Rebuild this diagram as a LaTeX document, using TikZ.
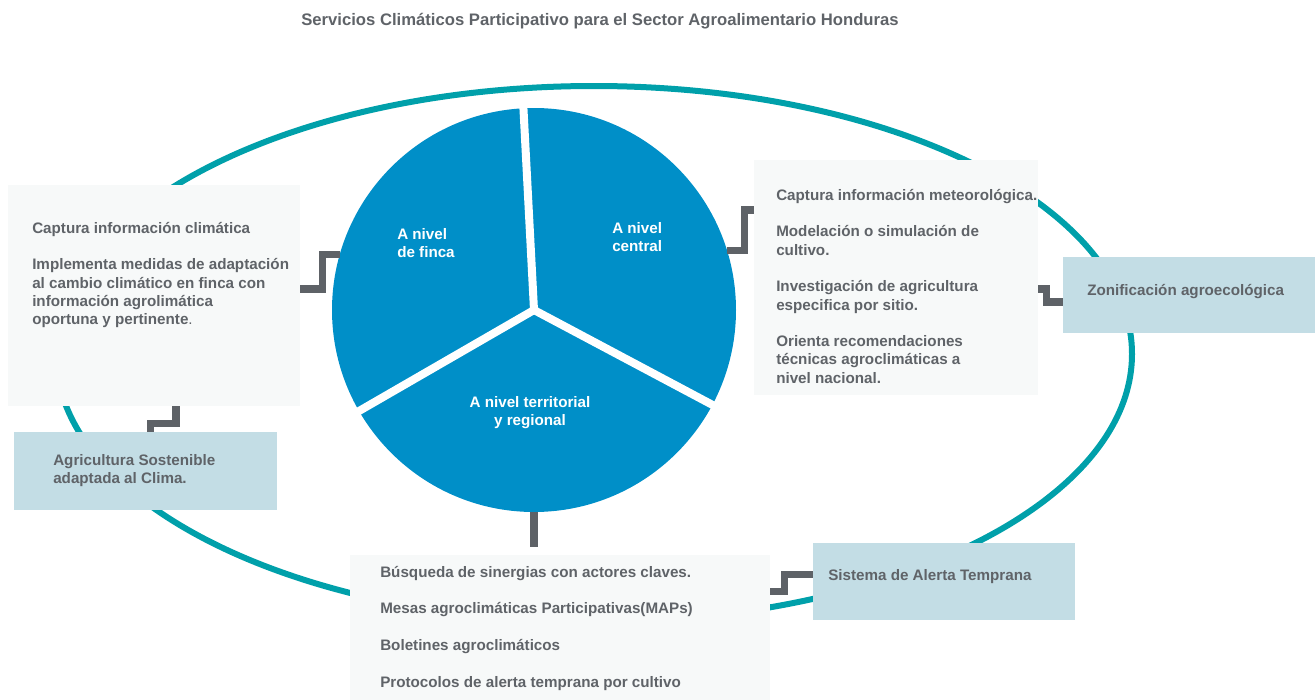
\documentclass[tikz,border=0pt]{standalone}
\usepackage{fontspec}
\setmainfont{Liberation Sans}
\usepackage{xcolor}
\usepackage{tikz}

\definecolor{ringteal}{RGB}{0,160,170}
\definecolor{pieblue}{RGB}{0,143,200}
\definecolor{conngray}{RGB}{94,98,103}
\definecolor{textgray}{RGB}{95,99,104}
\definecolor{boxwhite}{RGB}{247,249,249}
\definecolor{boxblue}{RGB}{195,221,229}

\tikzset{
  wbox/.style={fill=boxwhite, inner sep=0pt},
  bbox/.style={fill=boxblue, inner sep=0pt},
  txt/.style={anchor=north west, inner sep=0.75pt, align=left, text=textgray,
    font=\fontsize{11.4}{13.7}\selectfont\bfseries},
  lbl/.style={inner sep=0.75pt, text=white, font=\fontsize{11.4}{13.7}\selectfont\bfseries},
  conn/.style={draw=conngray, line width=5.3pt},
  gapline/.style={draw=white, line width=6pt, shorten >=-6pt},
  ring/.style={draw=ringteal, line width=4.5pt}
}

\begin{document}
\begin{tikzpicture}[x=0.75pt,y=0.75pt,yscale=-1,xscale=1]
\useasboundingbox (0,0) rectangle (1315,700);

% outer ring
\draw[ring] (594,354) ellipse [x radius=538, y radius=268];

% boxes
\draw (154,295.5) node (fincabox) [wbox, minimum width=219pt, minimum height=165.75pt] {};
\draw (145.5,471) node (agribox) [bbox, minimum width=197.25pt, minimum height=58.5pt] {};
\draw (896,277.5) node (centralbox) [wbox, minimum width=213pt, minimum height=176.25pt] {};
\draw (1189,295) node (zonabox) [bbox, minimum width=189pt, minimum height=57pt] {};
\draw (560,627.5) node (territbox) [wbox, minimum width=315pt, minimum height=108.75pt] {};
\draw (944,581.5) node (alertabox) [bbox, minimum width=196.5pt, minimum height=57.75pt] {};

% pie
\draw (534,310) node (pie) [circle, fill=pieblue, inner sep=0pt, minimum size=303pt] {};
\draw[gapline] (pie.center) -- (pie.93);
\draw[gapline] (pie.center) -- (pie.210);
\draw[gapline] (pie.center) -- (pie.332);

% connectors (yscale=-1 flips yshift)
\draw[conn] (fincabox.east) ++(0,-6.5) -- ++(22,0) |- (pie.164);
\draw[conn] (centralbox.west) ++(0,-67.5) -- ++(-9.5,0) |- (pie.17);
\draw[conn] (centralbox.east) ++(0,11.5) -- ++(8.5,0) |- ([yshift=5.25pt]zonabox.west);
\draw[conn] ([xshift=16.5pt]fincabox.south) -- ++(0,17) -| ([xshift=3.75pt]agribox.north);
\draw[conn, shorten >=6pt] (pie.south) -- (pie.south |- territbox.north);
\draw[conn] (territbox.east) ++(0,-36) -- ++(14.5,0) |- ([yshift=-5.25pt]alertabox.west);

% texts
\draw (600,12) node (title) [anchor=north, inner sep=0.75pt, text=textgray, font=\fontsize{12.5}{14}\selectfont\bfseries] {Servicios Climáticos Participativo para el Sector Agroalimentario Honduras};
\draw (31,221) node (fincatxt) [txt] {Captura información climática\\[13.7pt]Implementa medidas de adaptación\\al cambio climático en finca con\\información agrolimática\\oportuna y pertinente\textmd{.}};
\draw (52,453) node (agritxt) [txt] {Agricultura Sostenible\\adaptada al Clima.};
\draw (775,188) node (centraltxt) [txt] {Captura información meteorológica.\\[13.7pt]Modelación o simulación de\\cultivo.\\[13.7pt]Investigación de agricultura\\especifica por sitio.\\[13.7pt]Orienta recomendaciones\\técnicas agroclimáticas a\\nivel nacional.};
\draw (1086,283) node (zonatxt) [txt] {Zonificación agroecológica};
\draw (379,565) node (territxt) [txt] {Búsqueda de sinergias con actores claves.\\[13.7pt]Mesas agroclimáticas Participativas(MAPs)\\[13.7pt]Boletines agroclimáticos\\[13.7pt]Protocolos de alerta temprana por cultivo};
\draw (827,568) node (alertatxt) [txt] {Sistema de Alerta Temprana};
\draw (396,227) node (fincalbl) [lbl, anchor=north west, align=left] {A nivel\\de finca};
\draw (611,221) node (centrallbl) [lbl, anchor=north west, align=left] {A nivel\\central};
\draw (530,395) node (territlbl) [lbl, anchor=north, align=center] {A nivel territorial\\y regional};
\end{tikzpicture}
\end{document}
